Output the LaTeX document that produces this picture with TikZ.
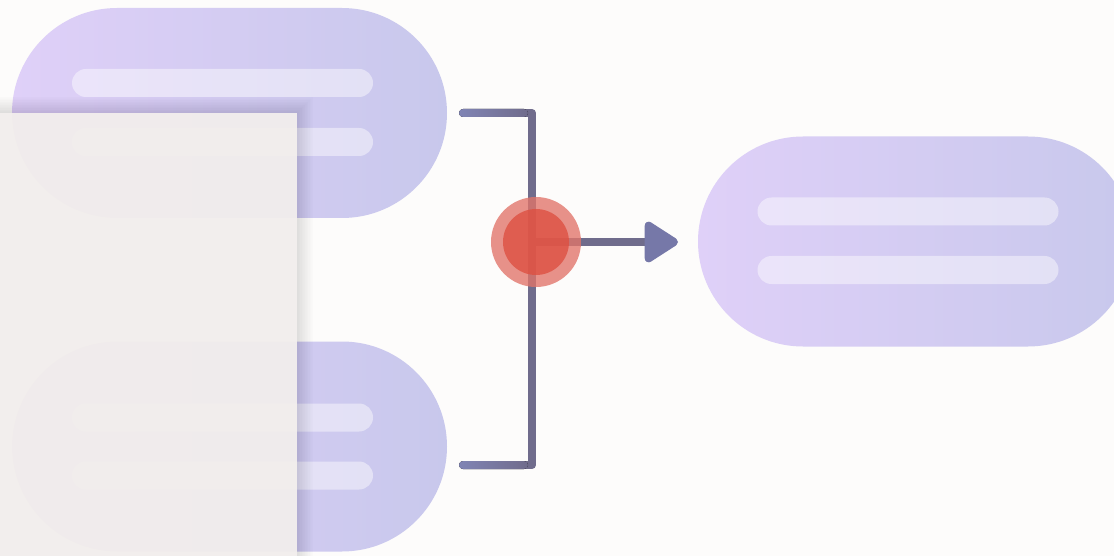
\documentclass[tikz,border=0pt]{standalone}
\usetikzlibrary{shapes.misc,arrows.meta}
\definecolor{bgc}{HTML}{FDFCFB}
\definecolor{pillL}{HTML}{DFD0F8}
\definecolor{pillR}{HTML}{C8C8EC}
\definecolor{sheet}{HTML}{F2EEEC}
\definecolor{linec}{HTML}{706C8C}
\definecolor{linel}{HTML}{8084B4}
\definecolor{headc}{HTML}{7678A8}
\definecolor{ringc}{RGB}{226,116,105}
\definecolor{corec}{RGB}{222,79,64}
\tikzset{
  pill/.style={rounded rectangle, minimum width=435pt, minimum height=210pt, inner sep=0pt, draw=none, left color=pillL, right color=pillR},
  bar/.style={rounded rectangle, minimum width=301pt, minimum height=28pt, inner sep=0pt, draw=none, fill=white, fill opacity=0.45},
  conn/.style={line width=8pt, draw=linec, line cap=round, line join=round},
  hseg/.style={left color=linel, right color=linec, draw=none},
}
\begin{document}
\begin{tikzpicture}[x=1pt,y=-1pt]
\useasboundingbox (0,0) rectangle (1114,556);
\fill[bgc] (0,0) rectangle (1114,556);
% pills
\node[pill] (p1) at (229.5,113) {};
\node[pill] (p2) at (229.5,446.5) {};
\node[pill] (p3) at (915.5,241.5) {};
% bars
\node[bar] (b11) at (222.5,83) {};
\node[bar] (b12) at (222.5,142) {};
\node[bar] (b21) at (222.5,417.5) {};
\node[bar] (b22) at (222.5,475.5) {};
\node[bar] (b31) at (908,211.5) {};
\node[bar] (b32) at (908,270) {};
% shadow of sheet (outside only)
\foreach \i in {1,...,10} {
  \fill[black, opacity=0.011, even odd rule] (-20,{113-1.6*\i}) rectangle ({297+1.6*\i},576) (-20,113) rectangle (297,576);
}
% sheet
\node[draw=none, fill=sheet, fill opacity=0.93, minimum width=297pt, minimum height=463pt, inner sep=0pt, anchor=north west] (sheet) at (0,113) {};
% bracket
\coordinate (t1) at (463,113);
\coordinate (tc) at (532,113);
\coordinate (bc) at (532,465);
\coordinate (t2) at (463,465);
\coordinate (hub) at (536,242);
\coordinate (tip) at (678,242);
\draw[conn] (t1) -- (tc) -- (bc) -- (t2);
\fill[hseg, rounded corners=4pt] (459,109) rectangle (528,117);
\fill[hseg, rounded corners=4pt] (459,461) rectangle (528,469);
\draw[conn, -{Triangle[length=37pt,width=45pt,round,fill=headc,color=headc]}] (hub) -- (tip);
% junction circle
\node[circle, fill=ringc, fill opacity=0.78, minimum size=90pt, inner sep=0pt] (ring) at (hub) {};
\node[circle, fill=corec, fill opacity=0.78, minimum size=66pt, inner sep=0pt] (core) at (hub) {};
\end{tikzpicture}
\end{document}
